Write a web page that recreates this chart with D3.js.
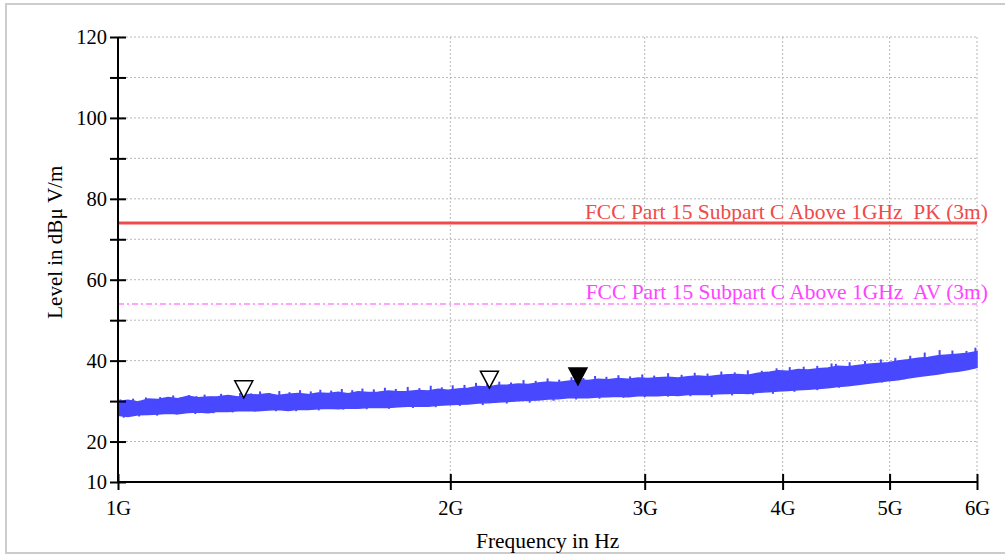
<!DOCTYPE html>
<html>
<head>
<meta charset="utf-8">
<script src="https://cdn.jsdelivr.net/npm/d3@7"></script>
<style>
  body { margin: 0; background: #fff; }
  svg text { font-family: "Liberation Serif", "Times New Roman", serif; }
</style>
</head>
<body>
<div id="chart"></div>
<script>
// frequency grid of the trace, GHz
var freqs = [1.000, 1.021, 1.043, 1.065, 1.087, 1.110, 1.133, 1.157, 1.182, 1.207,
  1.232, 1.258, 1.285, 1.312, 1.339, 1.367, 1.396, 1.426, 1.456, 1.487,
  1.518, 1.550, 1.583, 1.616, 1.650, 1.685, 1.720, 1.757, 1.794, 1.831,
  1.870, 1.909, 1.950, 1.991, 2.033, 2.076, 2.119, 2.164, 2.210, 2.256,
  2.304, 2.352, 2.402, 2.452, 2.504, 2.557, 2.611, 2.666, 2.722, 2.779,
  2.838, 2.898, 2.959, 3.021, 3.085, 3.150, 3.216, 3.284, 3.353, 3.424,
  3.496, 3.570, 3.645, 3.722, 3.800, 3.880, 3.962, 4.045, 4.131, 4.218,
  4.307, 4.397, 4.490, 4.585, 4.681, 4.780, 4.881, 4.984, 5.089, 5.196,
  5.306, 5.417, 5.532, 5.648, 5.767, 5.889, 6.000];

// noise band of the trace: lower and upper edge, dBµV/m
var levelLow = [26.5, 26.2, 26.6, 26.7, 26.8, 27.0, 26.9, 27.2, 27.3, 27.1,
  27.5, 27.4, 27.6, 27.7, 27.6, 27.8, 27.9, 27.7, 28.0, 27.9,
  28.1, 28.2, 28.1, 28.3, 28.2, 28.4, 28.5, 28.4, 28.6, 28.7,
  28.8, 28.7, 29.0, 29.1, 29.2, 29.3, 29.5, 29.6, 29.8, 29.9,
  30.1, 30.2, 30.3, 30.5, 30.6, 30.8, 30.9, 30.8, 31.0, 31.1,
  31.2, 31.1, 31.3, 31.4, 31.3, 31.5, 31.4, 31.6, 31.7, 31.6,
  31.8, 31.9, 32.0, 31.9, 32.2, 32.3, 32.5, 32.6, 32.8, 32.9,
  33.1, 33.3, 33.6, 33.8, 34.1, 34.4, 34.7, 35.0, 35.3, 35.7,
  36.1, 36.4, 36.7, 37.1, 37.4, 37.8, 38.3];

var levelHigh = [29.9, 30.2, 29.8, 30.5, 30.4, 30.9, 30.6, 31.2, 30.8, 31.0,
  31.1, 31.4, 31.0, 31.6, 31.5, 31.8, 31.4, 31.7, 31.9, 31.6,
  32.0, 31.9, 32.2, 31.8, 32.3, 32.1, 32.2, 32.5, 32.3, 32.4,
  32.6, 32.5, 32.9, 32.7, 33.0, 33.2, 33.6, 33.5, 33.9, 34.0,
  34.2, 34.1, 34.5, 34.7, 34.6, 34.9, 35.2, 35.1, 35.4, 35.3,
  35.6, 35.4, 35.7, 35.6, 35.8, 35.9, 35.7, 36.0, 36.2, 36.0,
  36.3, 36.5, 36.6, 36.4, 36.9, 37.1, 37.5, 37.4, 37.8, 37.7,
  38.0, 38.2, 38.6, 38.5, 38.8, 39.1, 39.3, 39.5, 39.9, 40.2,
  40.6, 40.8, 41.2, 41.4, 41.6, 41.8, 42.2];

// single peaks above the band
var spikeFreq = [1.005, 1.018, 1.032, 1.048, 1.060, 1.075, 1.092, 1.105, 1.122, 1.140,
  1.160, 1.178, 1.198, 1.215, 1.240, 1.262, 1.290, 1.320, 1.345, 1.372,
  1.400, 1.430, 1.462, 1.495, 1.525, 1.560, 1.595, 1.630, 1.665, 1.705,
  1.745, 1.785, 1.830, 1.875, 1.920, 1.965, 2.010, 2.060, 2.110, 2.160,
  2.215, 2.270, 2.330, 2.390, 2.450, 2.510, 2.575, 2.640, 2.705, 2.770,
  2.840, 2.910, 2.985, 3.060, 3.150, 3.240, 3.330, 3.420, 3.520, 3.620,
  3.720, 3.830, 3.950, 4.060, 4.180, 4.300, 4.430, 4.470, 4.600, 4.750,
  4.910, 5.060, 5.220, 5.380, 5.550, 5.700, 5.870, 5.980];
var spikeTop = [30.4, 30.1, 30.6, 29.9, 30.9, 30.5, 31.0, 30.7, 31.4, 30.9,
  31.5, 31.2, 31.6, 31.1, 31.8, 31.5, 32.0, 31.9, 32.4, 32.0,
  32.5, 32.2, 32.7, 32.4, 32.8, 32.6, 33.0, 32.7, 33.1, 32.9,
  33.3, 33.0, 33.5, 33.2, 33.8, 33.4, 33.9, 34.0, 34.5, 34.2,
  34.8, 34.6, 35.2, 35.0, 35.6, 35.3, 35.9, 35.7, 36.2, 36.0,
  36.4, 36.1, 36.6, 36.3, 36.9, 36.5, 37.0, 36.8, 37.3, 37.1,
  37.6, 37.5, 38.1, 38.4, 38.5, 38.7, 39.3, 39.2, 39.6, 39.9,
  40.3, 40.7, 41.2, 42.0, 42.6, 42.5, 42.4, 43.2];

// single dips below the band
var dipFreq = [1.012, 1.045, 1.085, 1.130, 1.175, 1.220, 1.270, 1.330, 1.390, 1.450,
  1.520, 1.600, 1.680, 1.760, 1.850, 1.940, 2.040, 2.140, 2.250, 2.360,
  2.480, 2.600, 2.730, 2.870, 3.000, 3.150, 3.300, 3.450, 3.600, 3.760,
  3.920, 4.100, 4.300, 4.500, 4.700, 4.920, 5.150, 5.400, 5.650, 5.900];
var dipBottom = [25.9, 26.2, 26.4, 26.7, 26.8, 27.0, 27.2, 27.4, 27.5, 27.5,
  27.7, 27.9, 28.0, 28.1, 28.3, 28.5, 28.8, 29.0, 29.4, 29.6,
  30.1, 30.4, 30.6, 30.8, 31.0, 31.1, 31.2, 31.0, 31.4, 31.6,
  31.8, 32.3, 32.7, 33.3, 34.0, 34.6, 35.4, 36.3, 37.2, 38.0];

// markers
var markerFreq = [1.30, 2.17, 2.61];
var markerLevel = [30.8, 33.2, 34.0];
var markerFilled = [false, false, true];

// limit lines
var pkLimit = 74;
var avLimit = 54;
var pkLabel = "FCC Part 15 Subpart C Above 1GHz  PK (3m)";
var avLabel = "FCC Part 15 Subpart C Above 1GHz  AV (3m)";

var yTicks = [10, 20, 30, 40, 50, 60, 70, 80, 90, 100, 110, 120];
var yLabeled = [10, 20, 40, 60, 80, 100, 120];
var xTicks = [1, 2, 3, 4, 5, 6];

var traceColor = "#4848ff";

var svgWidth = 1005;
var svgHeight = 555;
var margin = { top: 37, right: 28, bottom: 73, left: 118 };
var width = svgWidth - margin.left - margin.right;
var height = svgHeight - margin.top - margin.bottom;

var svg = d3.select("#chart")
  .append("svg")
  .attr("width", svgWidth)
  .attr("height", svgHeight);

// outer frame
svg.append("rect")
  .attr("x", 6)
  .attr("y", 4)
  .attr("width", 1010)
  .attr("height", 549)
  .attr("fill", "none")
  .attr("stroke", "#cccccc")
  .attr("stroke-width", 2);

var chartGroup = svg.append("g")
  .attr("transform", `translate(${margin.left}, ${margin.top})`);

var xScale = d3.scaleLog().domain([1, 6]).range([0, width]);
var yScale = d3.scaleLinear().domain([10, 120]).range([height, 0]);

// grid
chartGroup.append("g")
  .selectAll("line")
  .data(yTicks.filter(d => d > 10))
  .enter()
  .append("line")
  .attr("x1", 0)
  .attr("x2", width)
  .attr("y1", d => yScale(d))
  .attr("y2", d => yScale(d))
  .attr("stroke", "#b8b8b8")
  .attr("stroke-dasharray", "2,2");

chartGroup.append("g")
  .selectAll("line")
  .data(xTicks.filter(d => d > 1))
  .enter()
  .append("line")
  .attr("x1", d => xScale(d))
  .attr("x2", d => xScale(d))
  .attr("y1", 0)
  .attr("y2", height)
  .attr("stroke", "#b8b8b8")
  .attr("stroke-dasharray", "2,2");

// limit lines
chartGroup.append("line")
  .attr("x1", 0)
  .attr("x2", width)
  .attr("y1", yScale(pkLimit))
  .attr("y2", yScale(pkLimit))
  .attr("stroke", "#f04a4a")
  .attr("stroke-width", 3);

chartGroup.append("line")
  .attr("x1", 0)
  .attr("x2", width)
  .attr("y1", yScale(avLimit))
  .attr("y2", yScale(avLimit))
  .attr("stroke", "#ff44ff")
  .attr("stroke-width", 1)
  .attr("stroke-dasharray", "6,3,2,3");

chartGroup.append("text")
  .attr("x", width + 11)
  .attr("y", yScale(pkLimit) - 4)
  .attr("text-anchor", "end")
  .attr("fill", "#f04a4a")
  .style("font-size", "21.5px")
  .style("white-space", "pre")
  .text(pkLabel);

chartGroup.append("text")
  .attr("x", width + 11)
  .attr("y", yScale(avLimit) - 5)
  .attr("text-anchor", "end")
  .attr("fill", "#ff44ff")
  .style("font-size", "21.5px")
  .style("white-space", "pre")
  .text(avLabel);

// trace: band, then single peaks and dips
var trace = freqs.map((f, i) => ({ f: f, lo: levelLow[i], hi: levelHigh[i] }));
var area = d3.area()
  .x(d => xScale(d.f))
  .y0(d => yScale(d.lo))
  .y1(d => yScale(d.hi));

var traceGroup = chartGroup.append("g");

traceGroup.append("path")
  .datum(trace)
  .attr("d", area)
  .attr("fill", traceColor)
  .attr("stroke", traceColor)
  .attr("stroke-width", 1.5);

traceGroup.selectAll(".spike")
  .data(spikeFreq)
  .enter()
  .append("line")
  .attr("class", "spike")
  .attr("x1", d => xScale(d))
  .attr("x2", d => xScale(d))
  .attr("y1", (d, i) => yScale(spikeTop[i]))
  .attr("y2", (d, i) => yScale(spikeTop[i] - 2.5))
  .attr("stroke", traceColor)
  .attr("stroke-width", 2);

traceGroup.selectAll(".dip")
  .data(dipFreq)
  .enter()
  .append("line")
  .attr("class", "dip")
  .attr("x1", d => xScale(d))
  .attr("x2", d => xScale(d))
  .attr("y1", (d, i) => yScale(dipBottom[i]))
  .attr("y2", (d, i) => yScale(dipBottom[i] + 2.5))
  .attr("stroke", traceColor)
  .attr("stroke-width", 2);

// markers (downward triangles with tip on the trace)
chartGroup.selectAll(".marker")
  .data(markerFreq)
  .enter()
  .append("path")
  .attr("class", "marker")
  .attr("d", (d, i) => {
    var x = xScale(d), y = yScale(markerLevel[i]);
    return `M${x},${y} L${x - 9},${y - 17} L${x + 9},${y - 17} Z`;
  })
  .attr("fill", (d, i) => markerFilled[i] ? "#000" : "#fff")
  .attr("stroke", "#000")
  .attr("stroke-width", 1.5);

// axes
var leftAxis = d3.axisLeft(yScale)
  .tickValues(yTicks)
  .tickSize(8)
  .tickPadding(3)
  .tickFormat(d => yLabeled.includes(d) ? d : "");

var bottomAxis = d3.axisBottom(xScale)
  .tickValues(xTicks)
  .tickSize(8)
  .tickPadding(10)
  .tickFormat(d => d + "G");

var yAxisG = chartGroup.append("g").call(leftAxis);
var xAxisG = chartGroup.append("g")
  .attr("transform", `translate(0, ${height})`)
  .call(bottomAxis);

[yAxisG, xAxisG].forEach(g => {
  g.select(".domain").attr("stroke", "#000").attr("stroke-width", 2);
  g.selectAll(".tick line").attr("stroke", "#000").attr("stroke-width", 2);
  g.selectAll("text")
    .attr("fill", "#000")
    .style("font-family", "'Liberation Serif', 'Times New Roman', serif")
    .style("font-size", "20.5px");
});
yAxisG.select(".domain").attr("d", `M0,0V${height}`);
xAxisG.select(".domain").attr("d", `M0,0H${width}`);
yAxisG.selectAll(".tick line").attr("x1", 8);
xAxisG.selectAll(".tick line").attr("y1", -8);

// axis labels
chartGroup.append("text")
  .attr("transform", "rotate(-90)")
  .attr("x", -(yScale(70) + 3))
  .attr("y", -56)
  .attr("text-anchor", "middle")
  .style("font-size", "21px")
  .text("Level in dBμ V/m");

chartGroup.append("text")
  .attr("x", xScale(2.45))
  .attr("y", height + 66)
  .attr("text-anchor", "middle")
  .style("font-size", "21.5px")
  .text("Frequency in Hz");
</script>
</body>
</html>
